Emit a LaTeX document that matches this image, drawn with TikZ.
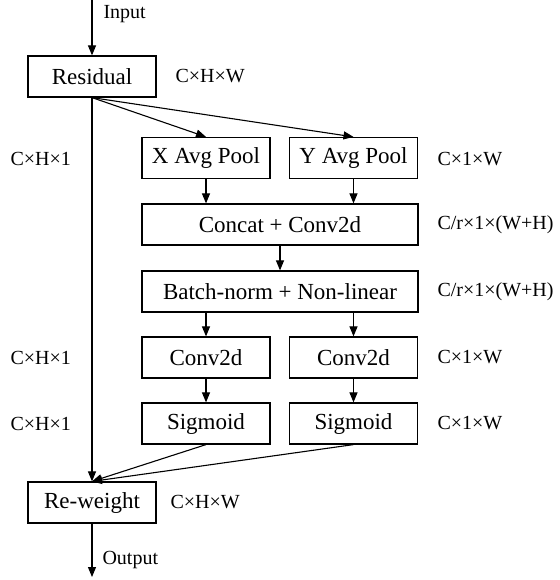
\documentclass[tikz,border=0pt]{standalone}
\usepackage{fontspec}
\setmainfont{Liberation Serif}
\usepackage{tikz}
\usetikzlibrary{arrows.meta, positioning}

\begin{document}
\begin{tikzpicture}[x=1pt,y=-1pt,->,>={Triangle[length=10pt,width=8pt]},
                    line width=1.1pt,
                    main node/.style={rectangle,draw,line width=1.2pt,minimum width=128pt,minimum height=41pt,inner sep=0pt,font=\fontsize{23}{27}\selectfont},
                    wide node/.style={main node,minimum width=276pt},
                    dim node/.style={anchor=west,inner sep=0pt,font=\fontsize{20}{24}\selectfont}]

  \useasboundingbox (0,0) rectangle (559,580);

  \coordinate (in) at (92,0);
  \coordinate (out) at (92,577);

  \node[main node] (res) at (92,76.5) {Residual};
  \node[main node] (xpool) at (206,158) {X Avg Pool};
  \node[main node] (ypool) at (353.5,158) {Y Avg Pool};
  \node[wide node] (concat) at (280,224.5) {Concat + Conv2d};
  \node[wide node] (bnorm) at (280,291.5) {Batch-norm + Non-linear};
  \node[main node] (xconv) at (206,357.5) {Conv2d};
  \node[main node] (yconv) at (353.5,357.5) {Conv2d};
  \node[main node] (xsig) at (206,423.5) {Sigmoid};
  \node[main node] (ysig) at (353.5,423.5) {Sigmoid};
  \node[main node] (rew) at (92,502.5) {Re-weight};

  \path
    (in) edge (res)
    (res.south) edge (xpool.north)
    (res.south) edge (ypool.north)
    (res.south) edge (rew.north)
    (xpool) edge (xpool|-concat.north)
    (ypool) edge (ypool|-concat.north)
    (concat) edge (bnorm)
    (bnorm.south-|xconv) edge (xconv)
    (bnorm.south-|yconv) edge (yconv)
    (xconv) edge (xsig)
    (yconv) edge (ysig)
    (xsig.south) edge (rew.north)
    (ysig.south) edge (rew.north)
    (rew) edge (out);

  % sizes
  \node[dim node] (lin) at (103,14) {Input};
  \node[dim node] (lres) at (175,76.5) {C×H×W};
  \node[dim node] (lx1) at (10,159) {C×H×1};
  \node[dim node] (ly1) at (437,159) {C×1×W};
  \node[dim node] (lcat) at (437,225) {C/r×1×(W+H)};
  \node[dim node] (lbn) at (437,291.5) {C/r×1×(W+H)};
  \node[dim node] (lx2) at (10,357.5) {C×H×1};
  \node[dim node] (ly2) at (437,357.5) {C×1×W};
  \node[dim node] (lx3) at (10,423.5) {C×H×1};
  \node[dim node] (ly3) at (437,423.5) {C×1×W};
  \node[dim node] (lrew) at (170,502.5) {C×H×W};
  \node[dim node] (lout) at (102,560) {Output};

\end{tikzpicture}
\end{document}
